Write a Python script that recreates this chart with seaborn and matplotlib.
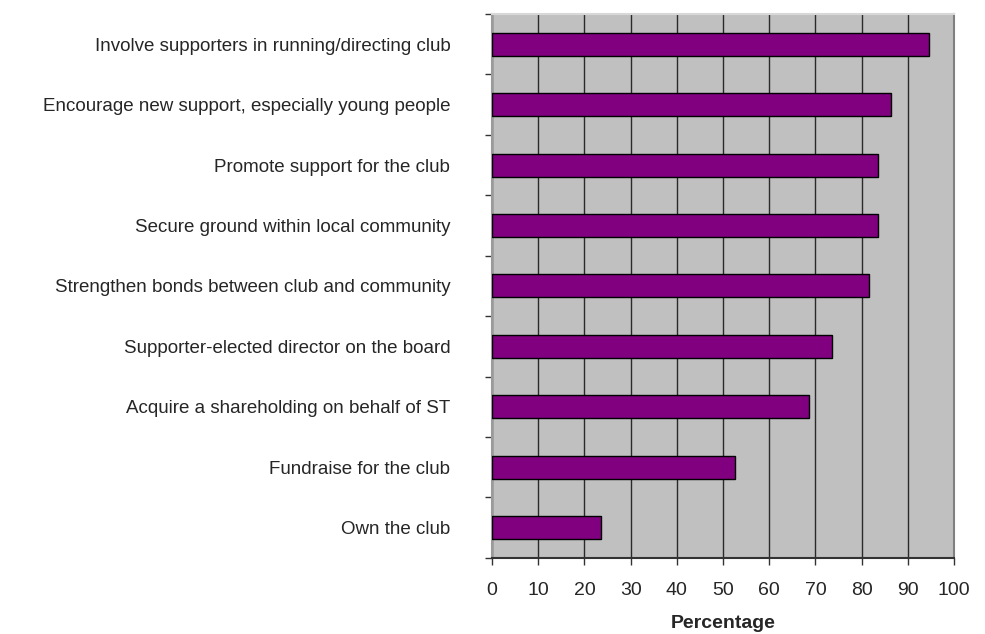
import matplotlib
matplotlib.use("Agg")
import matplotlib.pyplot as plt
import seaborn as sns
import pandas as pd

sns.set_style("white")
plt.rcParams["font.family"] = ["Liberation Sans", "DejaVu Sans"]

categories = [
    "Involve supporters in running/directing club",
    "Encourage new support, especially young people",
    "Promote support for the club",
    "Secure ground within local community",
    "Strengthen bonds between club and community",
    "Supporter-elected director on the board",
    "Acquire a shareholding on behalf of ST",
    "Fundraise for the club",
    "Own the club",
]
percentages = [94.5, 86.3, 83.5, 83.5, 81.7, 73.7, 68.6, 52.6, 23.5]
x_ticks = list(range(0, 101, 10))

df = pd.DataFrame({"Objective": categories, "Percentage": percentages})

fig = plt.figure(figsize=(9.85, 6.34), dpi=100)
ax = fig.add_axes([0.4995, 0.12, 0.469, 0.858])
ax.set_facecolor("#C0C0C0")

sns.barplot(
    data=df, y="Objective", x="Percentage", orient="h", ax=ax,
    color="#800080", saturation=1, width=0.38,
    edgecolor="black", linewidth=1.0, zorder=3,
)

ax.set_xlim(0, 100)
ax.set_ylim(len(categories) - 0.5, -0.5)
ax.set_xticks(x_ticks)
ax.set_xticklabels([str(t) for t in x_ticks], fontsize=14)
ax.xaxis.grid(True, color="#2a2a2a", linewidth=1.0, zorder=1)
ax.set_axisbelow(True)

# category ticks sit on the boundaries, labels at the centres
ax.set_yticks([i + 0.5 for i in range(-1, len(categories))], minor=False)
ax.set_yticklabels([""] * (len(categories) + 1))
ax.set_yticks(range(len(categories)), minor=True)
ax.set_yticklabels(categories, minor=True, fontsize=13.5)
ax.tick_params(axis="y", which="major", length=5, width=1, color="#333333",
               direction="out", left=True)
ax.tick_params(axis="y", which="minor", length=0, pad=30)
ax.tick_params(axis="x", length=5, width=1, color="#333333", direction="out",
               bottom=True, pad=12)

ax.set_xlabel("Percentage", fontsize=14, fontweight="bold", labelpad=12)
ax.set_ylabel("")

for side, col in [("left", "#9a9a9a"), ("bottom", "#333333"),
                  ("top", "#d8d8d8"), ("right", "#808080")]:
    ax.spines[side].set_visible(True)
    ax.spines[side].set_color(col)
    ax.spines[side].set_linewidth(1.5)

fig.savefig("out.png", dpi=100)
